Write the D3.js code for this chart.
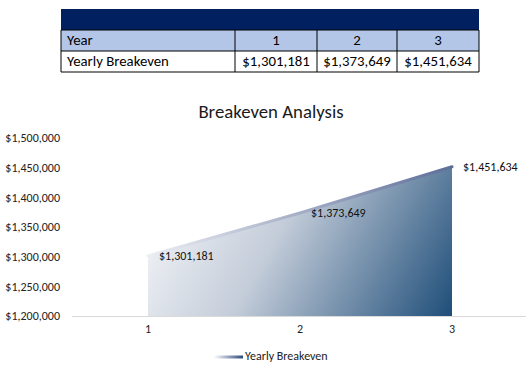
<!DOCTYPE html>
<html><head><meta charset="utf-8">
<script src="https://cdn.jsdelivr.net/npm/d3@7/dist/d3.min.js"></script>
<style>
html,body{margin:0;padding:0;background:#fff;}
svg{display:block;font-family:Calibri,Carlito,Lato,"Open Sans",sans-serif;}
</style></head>
<body><svg id="c" width="526" height="366"></svg>
<script>
const years = [1, 2, 3];
const breakeven = [1301181, 1373649, 1451634];
const seriesName = "Yearly Breakeven";
const yTicks = [1200000, 1250000, 1300000, 1350000, 1400000, 1450000, 1500000];
const title = "Breakeven Analysis";

const fmt = d3.format("$,.0f");
const svg = d3.select("#c");
const defs = svg.append("defs");

// ---- Table ----
const colEdges = [61, 235, 317, 397, 479];
const rowTop = 9, headH = 21, rowH = 21;
const tbl = svg.append("g");
tbl.append("rect").attr("x", colEdges[0]).attr("y", rowTop).attr("width", colEdges[4]-colEdges[0]).attr("height", headH).attr("fill", "#002060");
const rows = [["Year", ...years.map(String)], [seriesName, ...breakeven.map(fmt)]];
const rowFill = ["#b4c6e7", "#ffffff"];
rows.forEach((r, ri) => {
  const y0 = rowTop + headH + ri*rowH;
  tbl.append("rect").attr("x", colEdges[0]).attr("y", y0).attr("width", colEdges[4]-colEdges[0]).attr("height", rowH).attr("fill", rowFill[ri]);
  r.forEach((txt, ci) => {
    tbl.append("text")
      .attr("x", ci === 0 ? colEdges[0] + 6 : (colEdges[ci] + colEdges[ci+1]) / 2)
      .attr("y", y0 + rowH/2 + 1)
      .attr("dominant-baseline", "middle")
      .attr("text-anchor", ci === 0 ? "start" : "middle")
      .attr("font-size", 14.8).attr("fill", "#000").text(txt);
  });
});
const tb = rowTop + headH, bt = rowTop + headH + 2*rowH;
[tb, tb + rowH, bt].forEach(y => tbl.append("line").attr("x1", colEdges[0]).attr("x2", colEdges[4]).attr("y1", y).attr("y2", y).attr("stroke", "#000").attr("stroke-width", 1));
colEdges.forEach(x => tbl.append("line").attr("x1", x).attr("x2", x).attr("y1", tb).attr("y2", bt).attr("stroke", "#000").attr("stroke-width", 1));

// ---- Chart ----
const x = d3.scaleBand().domain(years).range([72, 528]).paddingInner(0).paddingOuter(0);
const cx = d => x(d) + x.bandwidth()/2;
const y = d3.scaleLinear().domain([1200000, 1500000]).range([316, 138]);
const data = years.map((yr, i) => ({yr, v: breakeven[i]}));

svg.append("text").attr("x", 271).attr("y", 118).attr("text-anchor", "middle").attr("font-size", 18.8).attr("fill", "#1a1a1a").text(title);

const yAxis = d3.axisLeft(y).tickValues(yTicks).tickFormat(fmt).tickSize(0).tickPadding(0);
const yg = svg.append("g").attr("transform", "translate(60,0)").call(yAxis);
yg.select(".domain").remove();
yg.selectAll("text").attr("font-size", 12).attr("fill", "#222").attr("font-family", "Calibri,Carlito,Lato,sans-serif");

const ymin = y(d3.max(breakeven)), ybase = y(1200000);
const ag = defs.append("linearGradient").attr("id", "ag").attr("gradientUnits", "userSpaceOnUse")
  .attr("x1", cx(years[0])).attr("y1", ymin - 20).attr("x2", cx(years[years.length-1])).attr("y2", ybase);
ag.append("stop").attr("offset", 0).attr("stop-color", "#ffffff");
ag.append("stop").attr("offset", 0.45).attr("stop-color", "#c3ccd9");
ag.append("stop").attr("offset", 1).attr("stop-color", "#1f4e79");

const area = d3.area().x(d => cx(d.yr)).y0(ybase).y1(d => y(d.v));
svg.append("path").datum(data).attr("d", area).attr("fill", "url(#ag)");

const lg = defs.append("linearGradient").attr("id", "lg").attr("gradientUnits", "userSpaceOnUse")
  .attr("x1", cx(years[0])).attr("y1", 0).attr("x2", cx(years[years.length-1])).attr("y2", 0);
lg.append("stop").attr("offset", 0).attr("stop-color", "#eceef3");
lg.append("stop").attr("offset", 1).attr("stop-color", "#5d6e99");
const line = d3.line().x(d => cx(d.yr)).y(d => y(d.v));
svg.append("path").datum(data).attr("d", line).attr("fill", "none").attr("stroke", "url(#lg)").attr("stroke-width", 3).attr("stroke-linecap", "round");

const xAxis = d3.axisBottom(x).tickSize(0).tickPadding(8);
const xg = svg.append("g").attr("transform", `translate(0,${ybase})`).call(xAxis);
xg.select(".domain").attr("stroke", "#d9d9d9").attr("d", `M72,0.5H526`);
xg.selectAll("text").attr("font-size", 12).attr("fill", "#222").attr("font-family", "Calibri,Carlito,Lato,sans-serif");

svg.append("g").selectAll("text").data(data).join("text")
  .attr("x", d => cx(d.yr) + 11).attr("y", d => y(d.v) + 1)
  .attr("dominant-baseline", "middle").attr("font-size", 12).attr("fill", "#111")
  .text(d => fmt(d.v));

const lgg = defs.append("linearGradient").attr("id", "lgl").attr("x1", 0).attr("x2", 1).attr("y1", 0).attr("y2", 0);
lgg.append("stop").attr("offset", 0).attr("stop-color", "#ffffff");
lgg.append("stop").attr("offset", 1).attr("stop-color", "#2e4a7c");
svg.append("rect").attr("x", 214).attr("y", 355.5).attr("width", 29).attr("height", 3).attr("fill", "url(#lgl)");
svg.append("text").attr("x", 245).attr("y", 357.5).attr("dominant-baseline", "middle").attr("font-size", 12).attr("fill", "#222").text(seriesName);
</script></body></html>
